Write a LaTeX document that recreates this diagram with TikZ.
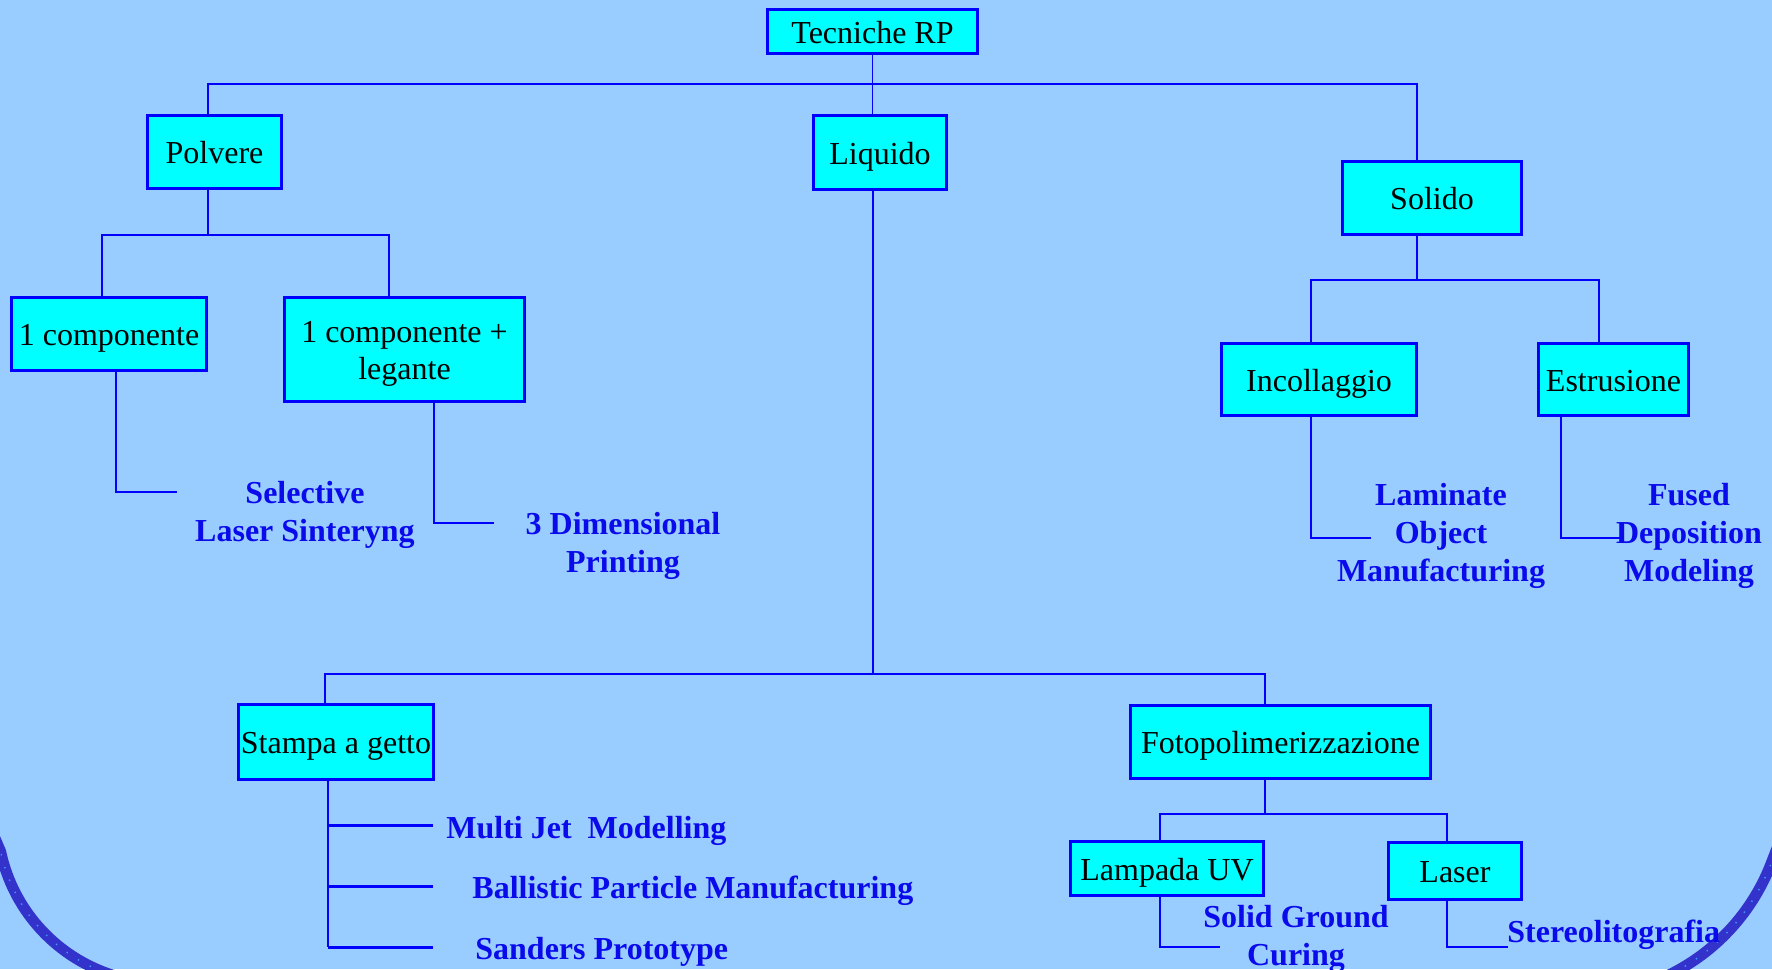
\documentclass[tikz,border=0pt]{standalone}
\usepackage{fontspec}
\setmainfont{Liberation Serif}
\definecolor{bgc}{RGB}{153,204,255}
\definecolor{boxc}{RGB}{0,255,255}
\definecolor{linec}{RGB}{0,0,255}
\definecolor{labc}{RGB}{10,10,235}
\definecolor{framec}{RGB}{51,51,204}
\definecolor{speck}{RGB}{60,150,255}
\begin{document}
\begin{tikzpicture}[x=0.5pt,y=-0.5pt,
  box/.style={draw=linec, fill=boxc, line width=1.75pt, inner sep=0pt, align=center,
    font=\fontsize{16}{18.5}\selectfont, text=black, text height=11.5pt, text depth=0pt},
  box2/.style={box, text height=30pt},
  lab/.style={inner sep=0pt, align=center, text=labc, font=\bfseries\fontsize{16}{19}\selectfont,
    text height=11.5pt, text depth=0pt},
  lab2/.style={lab, text height=30.5pt},
  lab3/.style={lab, text height=49.5pt},
  conn/.style={draw=linec, line width=0.85pt},
  busline/.style={draw=linec, line width=1.4pt},
  branch/.style={draw=linec, line width=1.5pt},
  framearc/.style={draw=framec, line width=5.5pt},
  speckarc/.style={draw=speck, line width=0.7pt, dash pattern=on 0.7pt off 6pt}
]
\useasboundingbox (0,0) rectangle (1772,969);
\fill[bgc] (0,0) rectangle (1772,969);

% decorative frame corners
\begin{scope}
\clip (0,0) rectangle (1772,969);
\draw[framearc] (-30,780) -- plot[domain=168:90, samples=50, smooth] ({163+166*cos(\x)},{817+166*sin(\x)});
\draw[speckarc] (-30,780) -- plot[domain=168:90, samples=50, smooth] ({163+166*cos(\x)},{817+166*sin(\x)});
\draw[framearc] (1800,790) -- plot[domain=20:90, samples=50, smooth] ({1578+207*cos(\x)},{789+207*sin(\x)});
\draw[speckarc] (1800,790) -- plot[domain=20:90, samples=50, smooth] ({1578+207*cos(\x)},{789+207*sin(\x)});
\end{scope}

% boxes
\node[box, minimum width=105pt, minimum height=22pt] (top) at (872.5,31.5) {Tecniche RP};
\node[box, minimum width=67pt, minimum height=36.5pt] (Polvere) at (214.5,152) {Polvere};
\node[box, minimum width=66.5pt, minimum height=37pt] (Liquido) at (880,152.5) {Liquido};
\node[box, minimum width=89.5pt, minimum height=36.5pt] (Solido) at (1432,198) {Solido};
\node[box, minimum width=97.5pt, minimum height=36.5pt] (comp1) at (109,334) {1 componente};
\node[box2, minimum width=120pt, minimum height=52pt] (leg) at (404.5,349.5) {1 componente +\\legante};
\node[box, minimum width=97.5pt, minimum height=36pt] (Incoll) at (1319,379.5) {Incollaggio};
\node[box, minimum width=75pt, minimum height=36pt] (Estr) at (1613.5,379.5) {Estrusione};
\node[box, minimum width=97.5pt, minimum height=37.5pt] (Stampa) at (336,742) {Stampa a getto};
\node[box, minimum width=150pt, minimum height=36.5pt] (Foto) at (1280.5,742) {Fotopolimerizzazione};
\node[box, minimum width=96.5pt, minimum height=27pt] (Lampada) at (1167,868.5) {Lampada UV};
\node[box, minimum width=66.5pt, minimum height=28.5pt] (Laser) at (1455,871) {Laser};

% labels
\node[lab2] (sls) at (305,511) {Selective\\Laser Sinteryng};
\node[lab2] (tdp) at (623,542) {3 Dimensional\\Printing};
\node[lab3] (lom) at (1441,532) {Laminate\\Object\\Manufacturing};
\node[lab3] (fdm) at (1689,532) {Fused\\Deposition\\Modeling};
\node[lab, anchor=west] (mjm) at (446,827) {Multi Jet\ \ Modelling};
\node[lab, anchor=west] (bpm) at (472,887) {Ballistic Particle Manufacturing};
\node[lab, anchor=west] (spr) at (475,948) {Sanders Prototype};
\node[lab2] (sgc) at (1296,935) {Solid Ground\\Curing};
\node[lab, anchor=west] (ster) at (1507,931) {Stereolitografia};

% free ends
\coordinate (slsend) at (177,492);
\coordinate (tdpend) at (494,523);
\coordinate (lomend) at (1371,538);
\coordinate (fdmend) at (1620,538);
\coordinate (mjmend) at (433,825);
\coordinate (bpmend) at (433,886);
\coordinate (sprend) at (433,947);
\coordinate (sgcend) at (1220,947);
\coordinate (sterend) at (1508,947);

% level 1
\draw[conn] (top.south) -- (top.south |- Liquido.north);
\draw[conn] (Polvere.north -| 208,0) -- (208,84) -- (1417,84) -- (Solido.north -| 1417,0);
\draw[busline] (373,84) -- (1191,84);

% Polvere
\draw[conn] (Polvere.south -| 208,0) -- (208,235);
\draw[conn] (comp1.north -| 102,0) -- (102,235) -- (389,235) -- (leg.north -| 389,0);
\draw[conn] (comp1.south -| 116,0) |- (slsend);
\draw[conn] (leg.south -| 434,0) |- (tdpend);

% Solido
\draw[conn] (Solido.south -| 1417,0) -- (1417,280);
\draw[conn] (Incoll.north -| 1311,0) -- (1311,280) -- (1599,280) -- (Estr.north -| 1599,0);
\draw[conn] (Incoll.south -| 1311,0) |- (lomend);
\draw[conn] (Estr.south -| 1561,0) |- (fdmend);

% Liquido
\draw[conn] (Liquido.south -| 873,0) -- (873,674);
\draw[conn, line width=1.1pt] (Stampa.north -| 325,0) -- (325,674) -- (1265,674) -- (Foto.north -| 1265,0);

% Stampa a getto
\draw[conn] (Stampa.south -| 328,0) -- (328,947);
\draw[branch] (328,825) -- (mjmend);
\draw[branch] (328,886) -- (bpmend);
\draw[branch] (328,947) -- (sprend);

% Fotopolimerizzazione
\draw[conn] (Foto.south -| 1265,0) -- (1265,814);
\draw[conn] (Lampada.north -| 1160,0) -- (1160,814) -- (1447,814) -- (Laser.north -| 1447,0);
\draw[conn] (Lampada.south -| 1160,0) |- (sgcend);
\draw[conn] (Laser.south -| 1447,0) |- (sterend);
\end{tikzpicture}
\end{document}
